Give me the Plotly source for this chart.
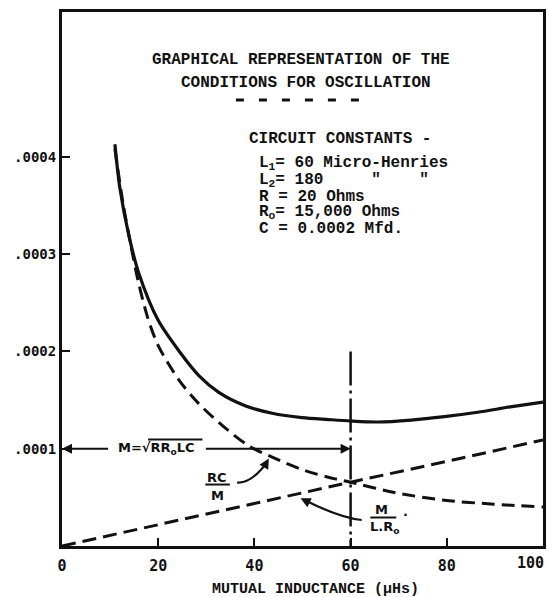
import plotly.graph_objects as go

# ---------------- data ----------------
Y_UNIT = 1e-4  # values below are in units of 1e-4

# total (solid) curve
M_total = [11, 12, 14, 16, 20, 24.4, 28.5, 32.6, 38.2, 43.7, 49.9, 55.4, 60,
           65.7, 72.6, 79.5, 86.4, 93.2, 100]
total = [4.13, 3.69, 3.17, 2.80, 2.32, 2.00, 1.75, 1.58, 1.44, 1.365, 1.32, 1.30,
         1.285, 1.275, 1.295, 1.33, 1.375, 1.43, 1.48]

# RC/M (falling dashed curve)
M_rc = [11, 12.7, 14.4, 15.8, 17.8, 20, 24.4, 28.5, 33.3, 38.8, 43.7, 50.5, 56.8,
        60, 69.1, 79.5, 89.8, 100]
rc_over_m = [4.08, 3.52, 3.07, 2.73, 2.35, 2.06, 1.70, 1.46, 1.24, 1.03, 0.913,
             0.776, 0.69, 0.656, 0.55, 0.47, 0.43, 0.40]

# M/(L R0) (rising dashed line)
M_lin = [0, 20, 40, 60, 80, 100]
m_over_lr0 = [0, 0.22, 0.44, 0.656, 0.87, 1.09]

# critical M = sqrt(R R0 L C)
M_crit = 60
crit_top = 2.0

x_ticks = [0, 20, 40, 60, 80]
x_ticktext = ["0", "20", "40", "60", "80"]
y_ticks = [1, 2, 3, 4]
y_ticktext = [".0001", ".0002", ".0003", ".0004"]

title_lines = ["GRAPHICAL REPRESENTATION OF THE", "CONDITIONS FOR OSCILLATION"]
constants = [
    "CIRCUIT CONSTANTS -",
    "L<sub>1</sub>= 60 Micro-Henries",
    "L<sub>2</sub>= 180\u00a0\u00a0\u00a0\u00a0\u00a0\"\u00a0\u00a0\u00a0\u00a0\"",
    "R = 20 Ohms",
    "R<sub>o</sub>= 15,000 Ohms",
    "C = 0.0002 Mfd.",
]
x_title = "MUTUAL INDUCTANCE (\u03bcHs)"

# ---------------- figure ----------------
W, H = 549, 597
L, R, T, B = 62, 3, 12, 51
pw, ph = W - L - R, H - T - B


def xp(px):
    return (px - L) / pw


def yp(py):
    return (H - B - py) / ph


def ys(vals):
    return [v * Y_UNIT for v in vals]


TYPE = "Liberation Mono"
LETTER = "DejaVu Sans Mono"
INK = "#111111"

fig = go.Figure()
fig.add_trace(go.Scatter(x=M_total, y=ys(total), mode="lines",
                         line=dict(color=INK, width=3.2, shape="spline", smoothing=0.8),
                         hoverinfo="skip", showlegend=False))
fig.add_trace(go.Scatter(x=M_rc, y=ys(rc_over_m), mode="lines",
                         line=dict(color=INK, width=3, dash="13px,7px", shape="spline", smoothing=0.8),
                         hoverinfo="skip", showlegend=False))
fig.add_trace(go.Scatter(x=M_lin, y=ys(m_over_lr0), mode="lines",
                         line=dict(color=INK, width=3, dash="14px,7px"),
                         hoverinfo="skip", showlegend=False))
fig.add_trace(go.Scatter(x=[M_crit, M_crit], y=ys([crit_top, 0]), mode="lines",
                         line=dict(color=INK, width=2.5, dash="34px,5px,3px,5px"),
                         hoverinfo="skip", showlegend=False))


def text_ann(x, y, text, font, xref="paper", yref="paper", xanchor="center", **kw):
    d = dict(xref=xref, yref=yref, x=x, y=y, text=text, showarrow=False,
             xanchor=xanchor, yanchor="middle", font=font)
    d.update(kw)
    return d


F_TYPE16 = dict(family=TYPE, size=16, color=INK, weight="bold")
F_TYPE15 = dict(family=TYPE, size=15, color=INK, weight="bold")
F_LET15 = dict(family=LETTER, size=15, color=INK, weight="bold")
F_HAND = dict(family="DejaVu Sans", size=13, color=INK, weight="bold")

ann = []
# title
ann.append(text_ann(xp(302), yp(60), title_lines[0], F_TYPE16))
ann.append(text_ann(xp(308), yp(83), title_lines[1], F_TYPE16))
# constants block
const_pos = [(248, 139), (258, 163), (258, 180), (258, 197), (258, 212), (258, 229)]
for txt, (px, py) in zip(constants, const_pos):
    ann.append(text_ann(xp(px), yp(py), txt, F_TYPE16, xanchor="left"))
# x axis title
ann.append(text_ann(xp(317), yp(589), x_title, F_TYPE15))
# "100" tick label kept inside the page
ann.append(text_ann(100, yp(563), "100", F_LET15, xref="x", xanchor="right", xshift=3))

# M = sqrt(RR0LC) double arrow
y1 = 1.0 * Y_UNIT
ann.append(dict(x=0, y=y1, ax=9.9, ay=y1, axref="x", ayref="y", xref="x", yref="y",
                text="", showarrow=True, arrowhead=2, arrowsize=1, arrowwidth=2,
                arrowcolor=INK, standoff=0))
ann.append(dict(x=M_crit, y=y1, ax=29.6, ay=y1, axref="x", ayref="y", xref="x", yref="y",
                text="", showarrow=True, arrowhead=2, arrowsize=1, arrowwidth=2,
                arrowcolor=INK, standoff=0))
ann.append(text_ann(19.7, y1, "M=\u221aRR<sub>o</sub>LC", F_HAND, xref="x", yref="y"))

# RC/M label
ann.append(text_ann(32.3, 0.70 * Y_UNIT, "RC", F_HAND, xref="x", yref="y"))
ann.append(text_ann(32.3, 0.52 * Y_UNIT, "M", F_HAND, xref="x", yref="y"))
# M/LR0 label
ann.append(text_ann(66.4, 0.375 * Y_UNIT, "M", F_HAND, xref="x", yref="y"))
ann.append(text_ann(71.4, 0.35 * Y_UNIT, ".", F_HAND, xref="x", yref="y"))
ann.append(text_ann(67.0, 0.19 * Y_UNIT, "L.R<sub>o</sub>", F_HAND, xref="x", yref="y"))

# arrowheads of curved pointers
ann.append(dict(x=43.0, y=0.899 * Y_UNIT, xref="x", yref="y", ax=-4, ay=7, text="",
                showarrow=True, arrowhead=2, arrowsize=1, arrowwidth=2, arrowcolor=INK, standoff=0))
ann.append(dict(x=49.6, y=0.491 * Y_UNIT, xref="x", yref="y", ax=8, ay=4, text="",
                showarrow=True, arrowhead=2, arrowsize=1, arrowwidth=2, arrowcolor=INK, standoff=0))

shapes = []
# decorative dashes under title
shapes.append(dict(type="line", xref="paper", yref="paper", x0=xp(237), x1=xp(362),
                   y0=yp(100), y1=yp(100), line=dict(color=INK, width=3, dash="8px,15px")))
# overline of radical
shapes.append(dict(type="line", xref="x", yref="y", x0=17.9, x1=29.2,
                   y0=1.095 * Y_UNIT, y1=1.095 * Y_UNIT, line=dict(color=INK, width=2)))
# fraction bars
shapes.append(dict(type="line", xref="x", yref="y", x0=29.8, x1=34.9,
                   y0=0.632 * Y_UNIT, y1=0.632 * Y_UNIT, line=dict(color=INK, width=2)))
shapes.append(dict(type="line", xref="x", yref="y", x0=64.1, x1=69.5,
                   y0=0.293 * Y_UNIT, y1=0.293 * Y_UNIT, line=dict(color=INK, width=2)))
# curved pointer lines
shapes.append(dict(type="path", xref="x", yref="y",
                   path=f"M 36.4,{0.653*Y_UNIT} Q 39.3,{0.638*Y_UNIT} 42.6,{0.86*Y_UNIT}",
                   line=dict(color=INK, width=2.2)))
shapes.append(dict(type="path", xref="x", yref="y",
                   path=f"M 62.3,{0.267*Y_UNIT} Q 57.8,{0.290*Y_UNIT} 50.5,{0.47*Y_UNIT}",
                   line=dict(color=INK, width=2.2)))

fig.update_layout(
    width=W, height=H,
    margin=dict(l=L, r=R, t=T, b=B, pad=0),
    paper_bgcolor="white", plot_bgcolor="white",
    showlegend=False,
    annotations=ann, shapes=shapes,
    xaxis=dict(range=[0, 100], showgrid=False, zeroline=False,
               showline=True, mirror=True, linecolor=INK, linewidth=3,
               ticks="inside", ticklen=8, tickwidth=2, tickcolor=INK,
               tickvals=x_ticks, ticktext=x_ticktext, ticklabelstandoff=4,
               tickfont=F_LET15),
    yaxis=dict(range=[0, 5.49 * Y_UNIT], showgrid=False, zeroline=False,
               showline=True, mirror=True, linecolor=INK, linewidth=3,
               ticks="inside", ticklen=8, tickwidth=2, tickcolor=INK,
               tickvals=ys(y_ticks), ticktext=y_ticktext,
               tickfont=dict(family=LETTER, size=14, color=INK, weight="bold")),
)

fig.write_html("out.html")
